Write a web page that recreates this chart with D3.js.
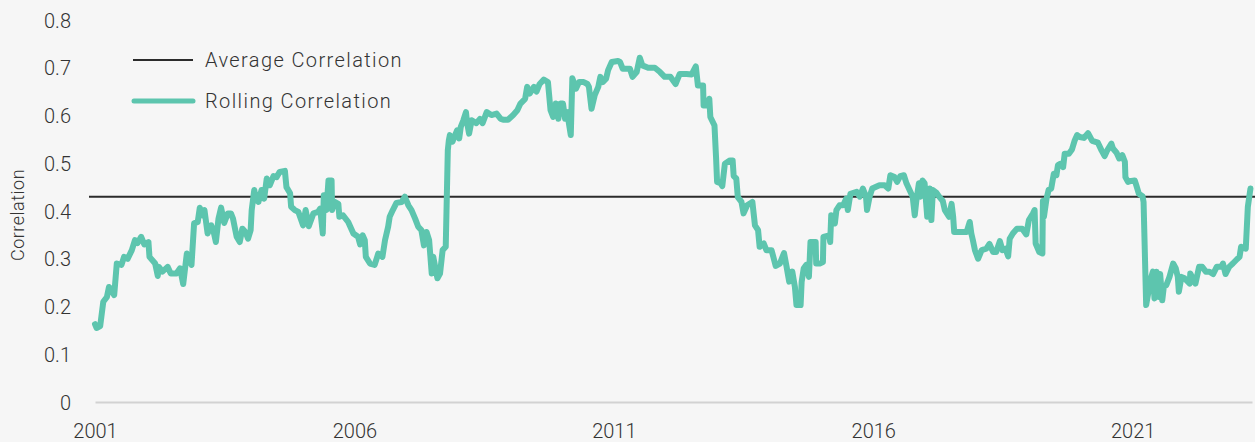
<!DOCTYPE html>
<html lang="en">
<head>
    <meta charset="UTF-8">
    <title>Rolling Correlation</title>
    <style>
        body { margin: 0; background: #f6f6f6; }
        svg { display: block; }
        text { font-family: Roboto, "DejaVu Sans", sans-serif; font-weight: 300; fill: #333; }
    </style>
</head>
<body>
<svg width="1255" height="442"></svg>
<script src="https://cdn.jsdelivr.net/npm/d3@7"></script>
<script>
    // decimal years and correlation values
    var years = [
        2001.00, 2001.03, 2001.10, 2001.16, 2001.23, 2001.27, 2001.37, 2001.42, 2001.51, 2001.56,
        2001.63, 2001.71, 2001.77, 2001.82, 2001.89, 2001.95, 2002.03, 2002.05, 2002.16, 2002.21,
        2002.23, 2002.30, 2002.40, 2002.46, 2002.57, 2002.64, 2002.70, 2002.77, 2002.81, 2002.86,
        2002.91, 2002.98, 2003.02, 2003.07, 2003.11, 2003.17, 2003.24, 2003.28, 2003.33, 2003.38,
        2003.43, 2003.49, 2003.56, 2003.62, 2003.66, 2003.73, 2003.79, 2003.84, 2003.90, 2003.95,
        2004.00, 2004.02, 2004.07, 2004.10, 2004.15, 2004.21, 2004.26, 2004.31, 2004.37, 2004.44,
        2004.50, 2004.56, 2004.66, 2004.69, 2004.76, 2004.78, 2004.85, 2004.92, 2005.01, 2005.06,
        2005.12, 2005.21, 2005.30, 2005.34, 2005.39, 2005.41, 2005.46, 2005.50, 2005.56, 2005.57,
        2005.62, 2005.69, 2005.71, 2005.78, 2005.88, 2005.98, 2006.07, 2006.11, 2006.16, 2006.20,
        2006.22, 2006.30, 2006.39, 2006.46, 2006.54, 2006.59, 2006.65, 2006.68, 2006.74, 2006.81,
        2006.91, 2006.97, 2007.04, 2007.10, 2007.17, 2007.23, 2007.29, 2007.34, 2007.39, 2007.44,
        2007.49, 2007.52, 2007.55, 2007.60, 2007.65, 2007.70, 2007.76, 2007.80, 2007.82, 2007.84,
        2007.89, 2007.94, 2007.98, 2008.02, 2008.05, 2008.10, 2008.15, 2008.17, 2008.21, 2008.26,
        2008.35, 2008.42, 2008.47, 2008.55, 2008.64, 2008.74, 2008.82, 2008.88, 2008.96, 2009.06,
        2009.14, 2009.20, 2009.29, 2009.33, 2009.38, 2009.46, 2009.51, 2009.57, 2009.65, 2009.73,
        2009.78, 2009.83, 2009.88, 2009.93, 2009.97, 2010.02, 2010.06, 2010.10, 2010.17, 2010.20,
        2010.27, 2010.33, 2010.42, 2010.49, 2010.52, 2010.57, 2010.63, 2010.70, 2010.74, 2010.79,
        2010.85, 2010.89, 2010.96, 2011.08, 2011.12, 2011.17, 2011.31, 2011.36, 2011.44, 2011.50,
        2011.55, 2011.66, 2011.79, 2011.89, 2011.98, 2012.09, 2012.19, 2012.27, 2012.40, 2012.50,
        2012.58, 2012.62, 2012.72, 2012.73, 2012.82, 2012.84, 2012.86, 2012.94, 2012.97, 2012.99,
        2013.06, 2013.09, 2013.14, 2013.24, 2013.29, 2013.31, 2013.36, 2013.39, 2013.46, 2013.50,
        2013.57, 2013.67, 2013.72, 2013.78, 2013.81, 2013.89, 2013.94, 2014.04, 2014.12, 2014.20,
        2014.28, 2014.33, 2014.38, 2014.44, 2014.49, 2014.52, 2014.60, 2014.62, 2014.66, 2014.71,
        2014.76, 2014.79, 2014.89, 2014.90, 2014.97, 2015.03, 2015.04, 2015.15, 2015.17, 2015.19,
        2015.26, 2015.29, 2015.35, 2015.42, 2015.48, 2015.51, 2015.56, 2015.68, 2015.74, 2015.80,
        2015.86, 2015.88, 2015.93, 2015.98, 2016.12, 2016.22, 2016.29, 2016.33, 2016.41, 2016.46,
        2016.52, 2016.59, 2016.64, 2016.70, 2016.76, 2016.80, 2016.83, 2016.88, 2016.91, 2016.95,
        2016.99, 2017.04, 2017.09, 2017.12, 2017.15, 2017.22, 2017.27, 2017.34, 2017.38, 2017.46,
        2017.51, 2017.54, 2017.56, 2017.67, 2017.80, 2017.86, 2017.89, 2017.92, 2017.96, 2018.02,
        2018.09, 2018.18, 2018.24, 2018.31, 2018.37, 2018.44, 2018.49, 2018.55, 2018.60, 2018.63,
        2018.69, 2018.77, 2018.87, 2018.95, 2019.00, 2019.08, 2019.11, 2019.13, 2019.20, 2019.26,
        2019.27, 2019.29, 2019.34, 2019.38, 2019.43, 2019.48, 2019.53, 2019.56, 2019.61, 2019.66,
        2019.69, 2019.77, 2019.83, 2019.88, 2019.93, 2019.98, 2020.06, 2020.14, 2020.22, 2020.33,
        2020.40, 2020.46, 2020.51, 2020.59, 2020.62, 2020.69, 2020.74, 2020.80, 2020.85, 2020.86,
        2020.91, 2020.97, 2021.04, 2021.07, 2021.12, 2021.19, 2021.21, 2021.26, 2021.31, 2021.36,
        2021.39, 2021.42, 2021.46, 2021.51, 2021.53, 2021.57, 2021.60, 2021.65, 2021.71, 2021.78,
        2021.83, 2021.87, 2021.89, 2021.94, 2022.00, 2022.10, 2022.11, 2022.16, 2022.21, 2022.28,
        2022.34, 2022.41, 2022.48, 2022.55, 2022.62, 2022.71, 2022.74, 2022.79, 2022.86, 2022.93,
        2023.01, 2023.06, 2023.09, 2023.18, 2023.22, 2023.27
    ];
    var rolling = [
        0.163, 0.155, 0.159, 0.210, 0.220, 0.241, 0.224, 0.290, 0.287, 0.304,
        0.300, 0.318, 0.339, 0.333, 0.346, 0.330, 0.335, 0.304, 0.290, 0.264,
        0.283, 0.273, 0.283, 0.269, 0.269, 0.280, 0.247, 0.311, 0.300, 0.287,
        0.374, 0.377, 0.407, 0.391, 0.402, 0.353, 0.370, 0.360, 0.335, 0.384,
        0.407, 0.375, 0.395, 0.395, 0.384, 0.346, 0.335, 0.363, 0.356, 0.342,
        0.360, 0.402, 0.444, 0.426, 0.419, 0.444, 0.426, 0.468, 0.454, 0.473,
        0.471, 0.482, 0.484, 0.450, 0.437, 0.409, 0.402, 0.398, 0.370, 0.402,
        0.368, 0.395, 0.398, 0.405, 0.353, 0.433, 0.402, 0.464, 0.464, 0.402,
        0.419, 0.415, 0.388, 0.391, 0.377, 0.353, 0.346, 0.330, 0.349, 0.339,
        0.304, 0.290, 0.287, 0.311, 0.304, 0.339, 0.367, 0.388, 0.402, 0.417,
        0.419, 0.430, 0.412, 0.402, 0.384, 0.367, 0.360, 0.328, 0.356, 0.339,
        0.269, 0.304, 0.287, 0.259, 0.269, 0.318, 0.325, 0.527, 0.548, 0.559,
        0.545, 0.559, 0.569, 0.552, 0.576, 0.590, 0.607, 0.586, 0.562, 0.590,
        0.584, 0.593, 0.584, 0.607, 0.601, 0.604, 0.593, 0.591, 0.591, 0.601,
        0.611, 0.625, 0.635, 0.660, 0.646, 0.660, 0.650, 0.666, 0.675, 0.670,
        0.611, 0.597, 0.625, 0.593, 0.625, 0.625, 0.593, 0.607, 0.559, 0.678,
        0.656, 0.670, 0.670, 0.666, 0.660, 0.614, 0.642, 0.660, 0.681, 0.670,
        0.677, 0.695, 0.712, 0.714, 0.712, 0.698, 0.698, 0.681, 0.691, 0.721,
        0.705, 0.700, 0.700, 0.691, 0.681, 0.681, 0.666, 0.687, 0.687, 0.686,
        0.703, 0.663, 0.663, 0.621, 0.621, 0.635, 0.597, 0.579, 0.513, 0.461,
        0.458, 0.452, 0.499, 0.506, 0.506, 0.473, 0.468, 0.429, 0.419, 0.395,
        0.412, 0.419, 0.370, 0.360, 0.325, 0.332, 0.318, 0.318, 0.285, 0.290,
        0.312, 0.283, 0.252, 0.273, 0.241, 0.203, 0.203, 0.252, 0.280, 0.287,
        0.262, 0.335, 0.335, 0.290, 0.290, 0.293, 0.346, 0.349, 0.335, 0.391,
        0.374, 0.402, 0.412, 0.412, 0.426, 0.402, 0.436, 0.440, 0.430, 0.447,
        0.430, 0.402, 0.430, 0.447, 0.454, 0.454, 0.447, 0.475, 0.471, 0.461,
        0.473, 0.475, 0.458, 0.444, 0.430, 0.391, 0.421, 0.458, 0.430, 0.464,
        0.458, 0.388, 0.447, 0.381, 0.444, 0.438, 0.430, 0.421, 0.402, 0.388,
        0.415, 0.388, 0.356, 0.356, 0.356, 0.377, 0.353, 0.339, 0.318, 0.300,
        0.318, 0.321, 0.331, 0.314, 0.314, 0.337, 0.318, 0.321, 0.305, 0.342,
        0.353, 0.363, 0.363, 0.351, 0.381, 0.395, 0.402, 0.332, 0.314, 0.311,
        0.421, 0.388, 0.426, 0.444, 0.447, 0.478, 0.475, 0.496, 0.499, 0.492,
        0.520, 0.520, 0.529, 0.547, 0.559, 0.555, 0.553, 0.563, 0.547, 0.543,
        0.527, 0.515, 0.527, 0.541, 0.531, 0.522, 0.510, 0.517, 0.503, 0.471,
        0.461, 0.463, 0.464, 0.454, 0.436, 0.431, 0.419, 0.203, 0.234, 0.262,
        0.273, 0.217, 0.273, 0.220, 0.268, 0.213, 0.241, 0.245, 0.262, 0.290,
        0.280, 0.262, 0.231, 0.262, 0.259, 0.248, 0.269, 0.259, 0.248, 0.283,
        0.283, 0.273, 0.273, 0.268, 0.283, 0.283, 0.290, 0.268, 0.283, 0.290,
        0.299, 0.304, 0.325, 0.321, 0.409, 0.447
    ];
    var averageCorrelation = 0.43;
    var yTicks = [0, 0.1, 0.2, 0.3, 0.4, 0.5, 0.6, 0.7, 0.8];
    var xTicks = [2001, 2006, 2011, 2016, 2021];
    var legendLabels = ["Average Correlation", "Rolling Correlation"];

    var svg = d3.select("svg");
    const width = +svg.attr("width");
    const height = +svg.attr("height");

    var x = d3.scaleLinear()
        .domain([2001, 2023.3])
        .range([95, 1252]);

    var y = d3.scaleLinear()
        .domain([0, 0.8])
        .range([402, 20]);

    // y axis labels, no line
    var yAxis = svg.append("g")
        .attr("transform", "translate(71,0)")
        .call(d3.axisLeft(y).tickValues(yTicks).tickSize(0).tickPadding(0)
            .tickFormat(d => d === 0 ? "0" : d3.format(".1f")(d)));
    yAxis.select(".domain").remove();
    yAxis.selectAll("text").style("font-size", "20px").attr("dy", "0.35em");

    var xAxis = svg.append("g")
        .attr("transform", "translate(0," + y(0) + ")")
        .call(d3.axisBottom(x).tickValues(xTicks).tickSize(0).tickPadding(29)
            .tickFormat(d3.format("d")));
    xAxis.select(".domain")
        .attr("stroke", "#d2d2d2")
        .attr("stroke-width", 2);
    xAxis.selectAll("text").style("font-size", "20px").attr("dy", "0.35em");

    svg.append("text")
        .attr("transform", "translate(24," + (y(0.4) + 4) + ") rotate(-90)")
        .attr("text-anchor", "middle")
        .style("font-size", "18px")
        .style("letter-spacing", "0.5px")
        .text("Correlation");

    svg.append("line")
        .attr("x1", x(2001) - 6)
        .attr("x2", width)
        .attr("y1", y(averageCorrelation))
        .attr("y2", y(averageCorrelation))
        .attr("stroke", "#2b2b2b")
        .attr("stroke-width", 2);

    var data = years.map((yr, i) => ({year: yr, value: rolling[i]}));

    var line = d3.line()
        .x(d => x(d.year))
        .y(d => y(d.value));

    svg.append("path")
        .datum(data)
        .attr("d", line)
        .attr("fill", "none")
        .attr("stroke", "#5dc5ae")
        .attr("stroke-width", 6)
        .attr("stroke-linejoin", "round")
        .attr("stroke-linecap", "round");

    // legend
    var legend = svg.append("g").attr("transform", "translate(133,60)");
    legendLabels.forEach(function(label, i) {
        var row = legend.append("g").attr("transform", "translate(0," + i * 41 + ")");
        row.append("line")
            .attr("x1", i ? 1 : 0)
            .attr("x2", 60)
            .attr("stroke", i ? "#5dc5ae" : "#2b2b2b")
            .attr("stroke-width", i ? 5 : 2)
            .attr("stroke-linecap", i ? "round" : "butt");
        row.append("text")
            .attr("x", 72)
            .attr("dy", "0.35em")
            .style("font-size", "20px")
            .style("letter-spacing", "1.4px")
            .text(label);
    });
</script>
</body>
</html>
